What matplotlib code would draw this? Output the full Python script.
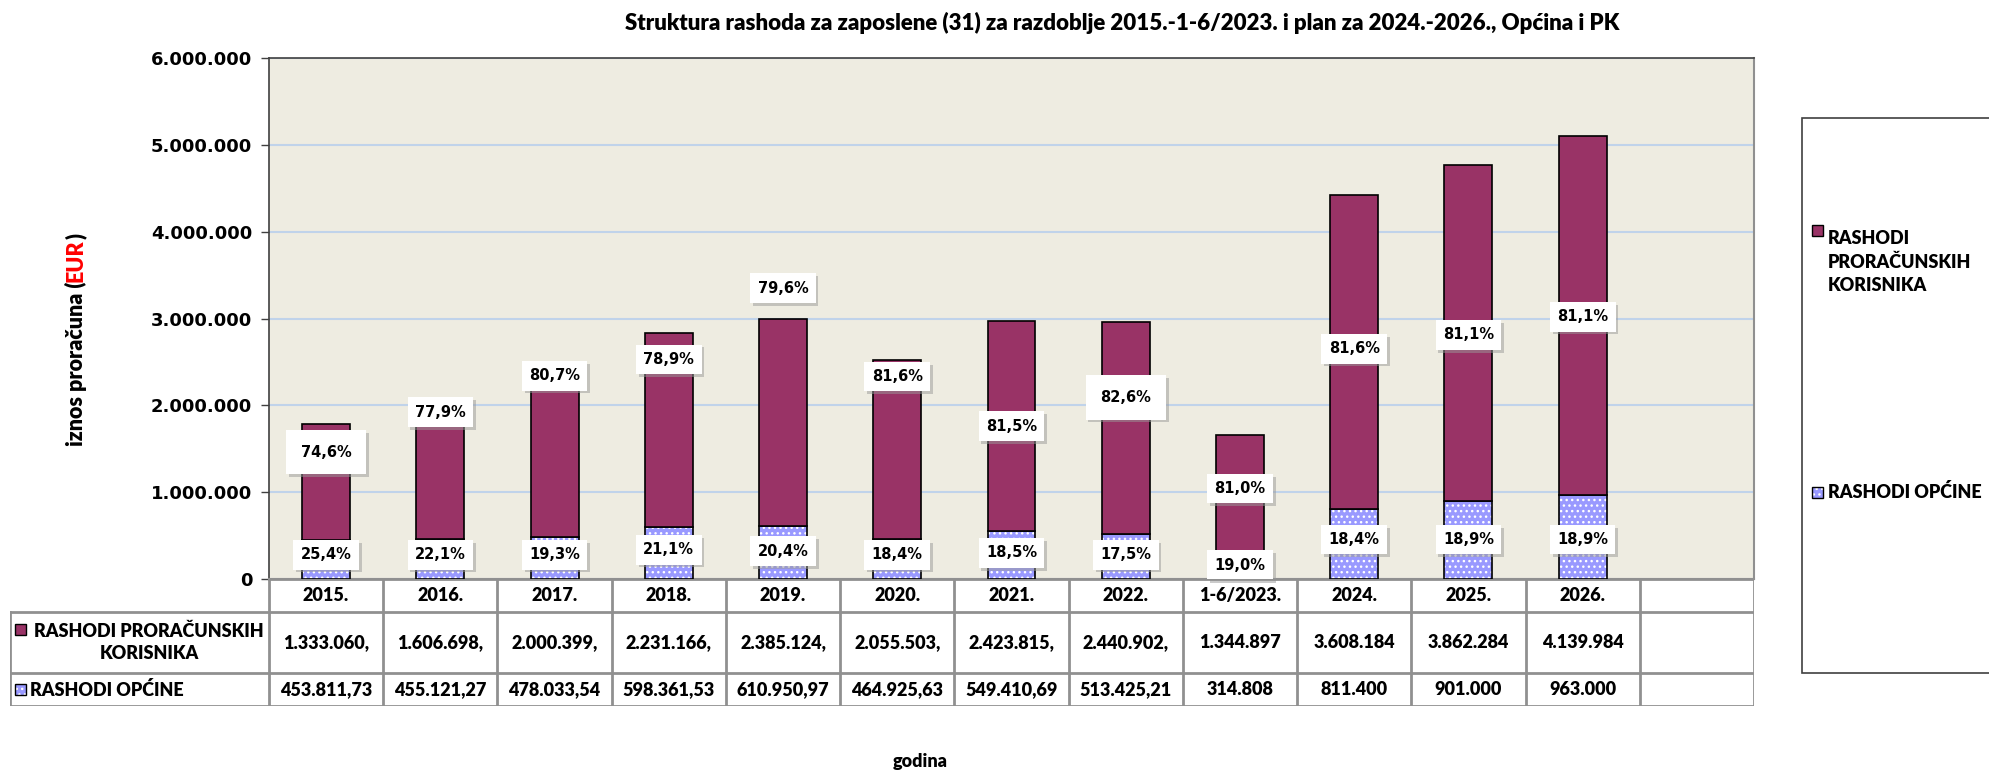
import matplotlib
matplotlib.use('Agg')
import matplotlib.pyplot as plt
import matplotlib.patheffects as pe
from matplotlib.patches import Rectangle
import numpy as np

# Dimenzije slike (px)
W, H = 1990, 772
DPI = 100

# Boje (Excel stil)
MAROON = '#993366'
BLUE = '#9999FF'
BG = '#EEECE1'
GRID = '#C0D3EA'
BORDER = '#909090'

CALIBRI = 'Lato'
CW = 'heavy'
VERDANA = 'DejaVu Sans'

# --- Podaci ---
godine = ['2015.', '2016.', '2017.', '2018.', '2019.', '2020.', '2021.',
          '2022.', '1-6/2023.', '2024.', '2025.', '2026.']
rashodi_opcine = [453811.73, 455121.27, 478033.54, 598361.53, 610950.97,
                  464925.63, 549410.69, 513425.21, 314808, 811400, 901000, 963000]
rashodi_korisnika = [1333060, 1606698, 2000399, 2231166, 2385124, 2055503,
                     2423815, 2440902, 1344897, 3608184, 3862284, 4139984]
opcine_txt = ['453.811,73', '455.121,27', '478.033,54', '598.361,53', '610.950,97',
              '464.925,63', '549.410,69', '513.425,21', '314.808', '811.400',
              '901.000', '963.000']
korisnika_txt = ['1.333.060,', '1.606.698,', '2.000.399,', '2.231.166,', '2.385.124,',
                 '2.055.503,', '2.423.815,', '2.440.902,', '1.344.897', '3.608.184',
                 '3.862.284', '4.139.984']
udio_korisnika = [74.6, 77.9, 80.7, 78.9, 79.6, 81.6, 81.5, 82.6, 81.0, 81.6, 81.1, 81.1]
udio_opcine = [25.4, 22.1, 19.3, 21.1, 20.4, 18.4, 18.5, 17.5, 19.0, 18.4, 18.9, 18.9]
yticks = [0, 1000000, 2000000, 3000000, 4000000, 5000000, 6000000]
ytick_labels = ['0', '1.000.000', '2.000.000', '3.000.000', '4.000.000',
                '5.000.000', '6.000.000']

# Raspored oznaka podataka (ručno pomaknute kao u Excelu)
top_label_y = [1.46e6, 1.92e6, 2.34e6, 2.53e6, 3.35e6, 2.33e6, 1.76e6, 2.09e6,
               1.04e6, 2.65e6, 2.81e6, 3.02e6]
bottom_label_y = [2.78e5, 2.78e5, 2.78e5, 3.37e5, 3.22e5, 2.78e5, 3.0e5, 2.78e5,
                  1.61e5, 4.54e5, 4.54e5, 4.54e5]
big_box = [0, 7]


def fx(px):
    return px / W


def fy(py):
    return 1 - py / H


fig = plt.figure(figsize=(W / DPI, H / DPI), dpi=DPI)

# --- Glavni graf ---
PL, PR, PT, PB = 269, 1754, 58, 579
ax = fig.add_axes([fx(PL), fy(PB), (PR - PL) / W, (PB - PT) / H])
ax.set_facecolor(BG)

n = len(godine)
x = np.arange(n) + 0.5
bw = 0.42

ax.bar(x, rashodi_opcine, width=bw, color=BLUE, edgecolor='white', hatch='...',
       linewidth=0, zorder=3)
ax.bar(x, rashodi_opcine, width=bw, facecolor='none', edgecolor='black',
       linewidth=1.2, zorder=3.2)
ax.bar(x, rashodi_korisnika, width=bw, bottom=rashodi_opcine, color=MAROON,
       edgecolor='black', linewidth=1.2, zorder=3.2)

ax.set_xlim(0, n + 1)
ax.set_ylim(0, 6000000)
ax.set_yticks(yticks)
ax.set_yticklabels(ytick_labels, fontsize=13, fontweight='bold', family=VERDANA)
ax.set_xticks([])
ax.tick_params(axis='y', length=6, width=1, color='#404040', pad=6)
ax.yaxis.grid(True, color=GRID, linewidth=1.5)
ax.set_axisbelow(True)
for s in ['left', 'top']:
    ax.spines[s].set_color('#404040')
    ax.spines[s].set_linewidth(1.2)
for s in ['right', 'bottom']:
    ax.spines[s].set_color(BORDER)
    ax.spines[s].set_linewidth(1.5)


def pct(v):
    return f'{v:.1f}%'.replace('.', ',')


shadow = [pe.SimplePatchShadow(offset=(2, -2), shadow_rgbFace='#999999', alpha=0.5),
          pe.Normal()]

for i in range(n):
    for val, yy, top in [(udio_korisnika[i], top_label_y[i], True),
                         (udio_opcine[i], bottom_label_y[i], False)]:
        pad = 1.0 if (i in big_box and top) else 0.5
        t = ax.text(x[i], yy, pct(val), ha='center', va='center', fontsize=10.5,
                    fontweight='bold', family=VERDANA, zorder=6,
                    bbox=dict(boxstyle=f'square,pad={pad}', fc='white', ec='none'))
        t.get_bbox_patch().set_path_effects(shadow)

# --- Tablica podataka ---
TL, TB = 10, 706
unit = (PR - PL) / (n + 1)
x0 = -(PL - TL) / unit
tax = fig.add_axes([fx(TL), fy(TB), (PR - TL) / W, (TB - PB) / H])
tax.set_xlim(x0, n + 1)
tax.set_ylim(0, 127)
tax.axis('off')

row_edges = [127, 94, 33, 0]
lk = dict(color=BORDER, linewidth=2, solid_capstyle='projecting')
tax.plot([0, n + 1], [127, 127], **lk)
for yy in row_edges[1:]:
    tax.plot([x0, n + 1], [yy, yy], **lk)
for i in range(n + 2):
    tax.plot([i, i], [0, 127], **lk)
tax.plot([x0, x0], [0, 94], **lk)

tkw = dict(ha='center', va='center', fontsize=13, fontweight=CW, family=CALIBRI)
for i in range(n):
    tax.text(x[i], 110.5, godine[i], **tkw)
    tax.text(x[i], 63.5, korisnika_txt[i], **tkw)
    tax.text(x[i], 16.5, opcine_txt[i], **tkw)

# oznake redaka
ms = 11 / unit
tax.add_patch(Rectangle((x0 + 5 / unit, 71), ms, 11, facecolor=MAROON,
                        edgecolor='black', linewidth=1, clip_on=False))
tax.text(x0 + 139 / unit, 63.5, 'RASHODI PRORAČUNSKIH\nKORISNIKA', ha='center',
         va='center', fontsize=13, fontweight=CW, family=CALIBRI, linespacing=1.3)
tax.add_patch(Rectangle((x0 + 5 / unit, 11), ms, 11, facecolor=BLUE,
                        edgecolor='white', hatch='...', linewidth=0, clip_on=False))
tax.add_patch(Rectangle((x0 + 5 / unit, 11), ms, 11, facecolor='none',
                        edgecolor='black', linewidth=1, clip_on=False))
tax.text(x0 + 20 / unit, 16.5, 'RASHODI OPĆINE', ha='left', va='center',
         fontsize=13, fontweight=CW, family=CALIBRI)

# --- Legenda ---
fig.patches.append(Rectangle((fx(1802), fy(673)), (1995 - 1802) / W, (673 - 118) / H,
                             transform=fig.transFigure, facecolor='white',
                             edgecolor='#404040', linewidth=1.2))
lm = 11
fig.patches.append(Rectangle((fx(1812), fy(236)), lm / W, lm / H,
                             transform=fig.transFigure, facecolor=MAROON,
                             edgecolor='black', linewidth=1))
fig.text(fx(1828), fy(230), 'RASHODI\nPRORAČUNSKIH\nKORISNIKA', ha='left', va='top',
         fontsize=13, fontweight=CW, family=CALIBRI, linespacing=1.45)
fig.patches.append(Rectangle((fx(1812), fy(498)), lm / W, lm / H,
                             transform=fig.transFigure, facecolor=BLUE,
                             edgecolor='white', hatch='...', linewidth=0))
fig.patches.append(Rectangle((fx(1812), fy(498)), lm / W, lm / H,
                             transform=fig.transFigure, facecolor='none',
                             edgecolor='black', linewidth=1))
fig.text(fx(1828), fy(492), 'RASHODI OPĆINE', ha='left', va='center',
         fontsize=13, fontweight=CW, family=CALIBRI)

# --- Naslovi ---
fig.text(fx(1122), fy(23), 'Struktura rashoda za zaposlene (31) za razdoblje '
         '2015.-1-6/2023. i plan za 2024.-2026., Općina i PK',
         ha='center', va='center', fontsize=16, fontweight=CW, family=CALIBRI)
fig.text(fx(920), fy(761), 'godina', ha='center', va='center', fontsize=13,
         fontweight=CW, family=CALIBRI)

# y-oznaka u više boja
ykw = dict(rotation=90, fontsize=15.5, fontweight=CW, family=CALIBRI)
t1 = fig.text(fx(76), fy(446), 'iznos proračuna (', ha='center', va='bottom', **ykw)
t2 = fig.text(0, 0, 'EUR', color='red', **ykw)
t3 = fig.text(0, 0, ')', **ykw)
fig.canvas.draw()
r = fig.canvas.get_renderer()
bb = t1.get_window_extent(r)
t2.set_position((fx(76), bb.y1 / H))
t2.set_ha('center')
t2.set_va('bottom')
fig.canvas.draw()
bb2 = t2.get_window_extent(r)
t3.set_position((fx(76), bb2.y1 / H))
t3.set_ha('center')
t3.set_va('bottom')

fig.savefig('out.png', dpi=DPI)
plt.close(fig)
